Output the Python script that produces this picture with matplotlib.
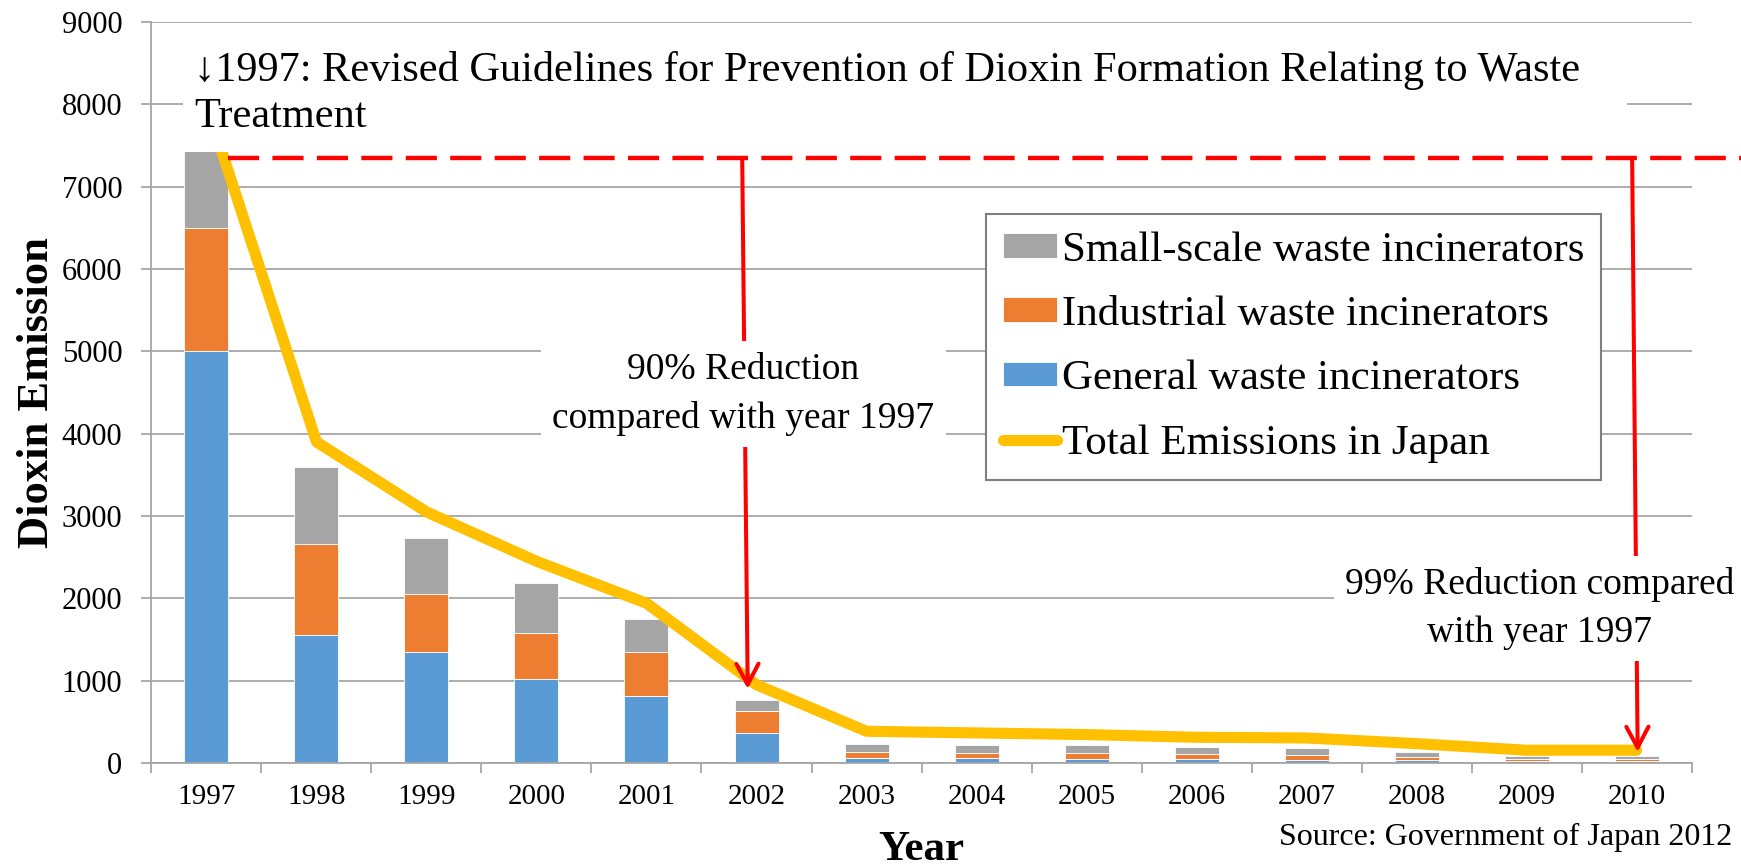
import matplotlib
matplotlib.use("Agg")
import matplotlib.pyplot as plt
from matplotlib.patches import Rectangle
import numpy as np

years = ["1997", "1998", "1999", "2000", "2001", "2002", "2003",
         "2004", "2005", "2006", "2007", "2008", "2009", "2010"]
general = [5000, 1560, 1350, 1020, 810, 370, 60, 57, 53, 49, 41, 32, 24, 20]
industrial = [1500, 1100, 700, 560, 540, 265, 74, 69, 73, 60, 60, 41, 29, 25]
# 1997 top is hidden behind the title box in the original
small_scale = [1150, 930, 680, 610, 400, 125, 93, 93, 93, 90, 85, 57, 36, 36]
total = [8000, 3900, 3050, 2450, 1940, 950, 385, 365, 345, 312, 304, 235, 155, 155]

ref_level = 7350
arrow_2002 = (4.87, 4.92, 900)
arrow_2010 = (12.96, 13.01, 135)

BLUE = "#5B9BD5"
ORANGE = "#ED7D31"
GRAY = "#A5A5A5"
YELLOW = "#FFC000"
RED = "#FF0000"
GRID = "#A6A6A6"

SERIF = ["Liberation Serif", "DejaVu Serif"]
plt.rcParams["font.family"] = SERIF


def main():
    fig = plt.figure(figsize=(17.41, 8.68), dpi=100)
    ax = fig.add_axes([0.087, 0.121, 0.8846, 0.8536])

    x = np.arange(len(years))
    bottom2 = np.array(general)
    bottom3 = bottom2 + np.array(industrial)

    b_gen = ax.bar(x, general, 0.4, color=BLUE, edgecolor="white",
                   linewidth=0.6, zorder=2)
    b_ind = ax.bar(x, industrial, 0.4, bottom=bottom2, color=ORANGE,
                   edgecolor="white", linewidth=0.6, zorder=2)
    b_small = ax.bar(x, small_scale, 0.4, bottom=bottom3, color=GRAY,
                     edgecolor="white", linewidth=0.6, zorder=2)
    line, = ax.plot(x, total, color=YELLOW, linewidth=8,
                    solid_joinstyle="round", solid_capstyle="round", zorder=3)

    # white title box covers the top of the 1997 column
    ax.add_patch(Rectangle((-0.215, 7420), 13.125, 1480, facecolor="white",
                           edgecolor="none", zorder=3.5))
    ax.text(-0.11, 8131,
            "\u21931997: Revised Guidelines for Prevention of Dioxin Formation Relating to Waste\nTreatment",
            ha="left", va="center", fontsize=30.5, zorder=5, linespacing=1.27)

    # dashed reference level of 1997, running off the right edge
    ax.plot([0.2, 14.2], [ref_level, ref_level], color=RED, linewidth=3.2,
            linestyle=(0, (7, 3)), clip_on=False, zorder=4)

    for x0, x1, tip in (arrow_2002, arrow_2010):
        ax.annotate("", xy=(x1, tip), xytext=(x0, ref_level),
                    arrowprops=dict(arrowstyle="->,head_length=0.75,head_width=0.4",
                                    color=RED, lw=2.9, shrinkA=0, shrinkB=0,
                                    mutation_scale=20),
                    zorder=4, annotation_clip=False)

    box = dict(facecolor="white", edgecolor="none", boxstyle="square,pad=0.3")
    ax.text(4.88, 4480, "90% Reduction\ncompared with year 1997",
            ha="center", va="center", fontsize=27, bbox=box, zorder=5,
            linespacing=1.5)
    ax.text(12.12, 1880, "99% Reduction compared\nwith year 1997",
            ha="center", va="center", fontsize=27, bbox=box, zorder=5,
            linespacing=1.5, clip_on=False)

    ax.set_xlim(-0.5, 13.5)
    ax.set_ylim(0, 9000)
    ax.set_yticks(np.arange(0, 9001, 1000))
    ax.set_xticks(x)
    ax.set_xticklabels(years)
    ax.set_xticks(np.arange(-0.5, 13.6, 1), minor=True)
    ax.tick_params(axis="x", which="major", length=0, pad=15, labelsize=21)
    ax.tick_params(axis="x", which="minor", length=7, color=GRID, width=1.3)
    ax.tick_params(axis="y", length=7, color=GRID, width=1.3, pad=14,
                   labelsize=22)
    ax.grid(axis="y", color=GRID, linewidth=1.3, zorder=0)
    ax.set_axisbelow(True)
    for s in ("top", "right"):
        ax.spines[s].set_visible(False)
    for s in ("left", "bottom"):
        ax.spines[s].set_color(GRID)
        ax.spines[s].set_linewidth(1.3)

    ax.set_ylabel("Dioxin Emission", fontsize=32, fontweight="bold")
    ax.yaxis.set_label_coords(-0.0615, 0.5)
    ax.set_xlabel("Year", fontsize=31, fontweight="bold")
    ax.xaxis.set_label_coords(0.5, -0.092)

    leg = ax.legend([b_small, b_ind, b_gen, line],
                    ["Small-scale waste incinerators", "Industrial waste incinerators",
                     "General waste incinerators", "Total Emissions in Japan"],
                    loc="upper left", bbox_to_anchor=(0.542, 0.741),
                    fontsize=31, fancybox=False, framealpha=1,
                    edgecolor="#7F7F7F", borderpad=0.4, labelspacing=0.6,
                    handlelength=1.25, handleheight=0.5, handletextpad=0.1,
                    borderaxespad=0)
    leg.get_frame().set_linewidth(1.5)
    leg.set_zorder(6)

    fig.text(0.995, 0.035, "Source: Government of Japan 2012", ha="right",
             va="center", fontsize=23)

    fig.savefig("out.png", dpi=100)


if __name__ == "__main__":
    main()
